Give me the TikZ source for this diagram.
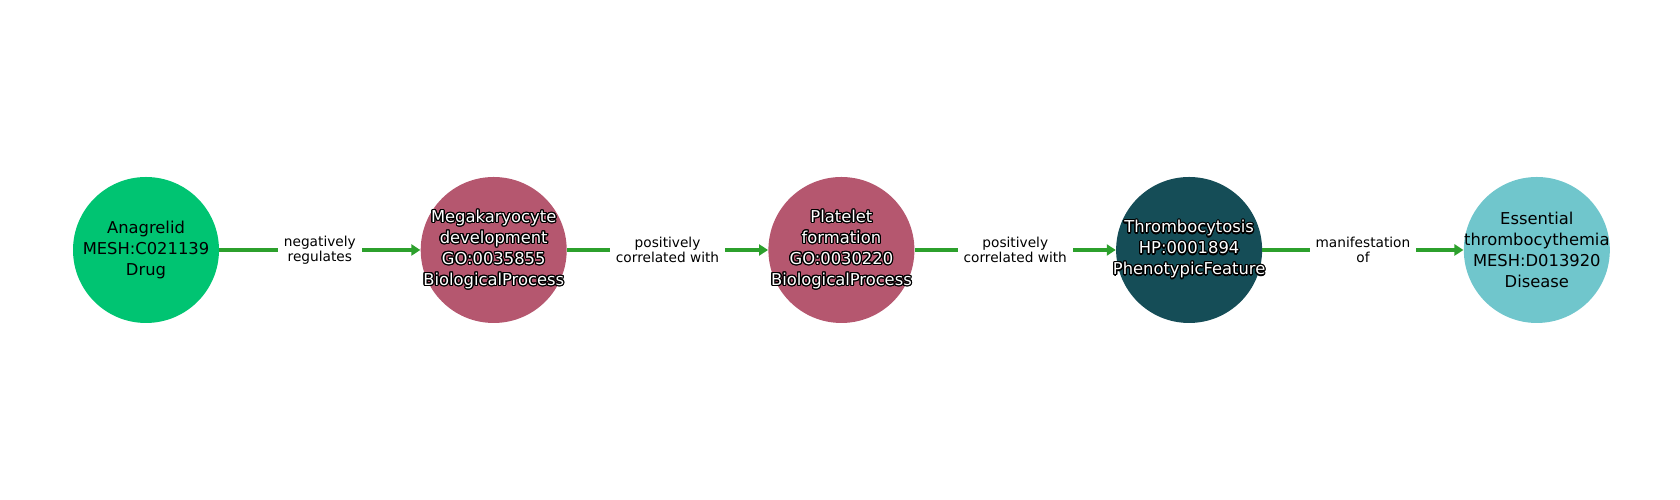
\documentclass[tikz,border=0pt]{standalone}
\usepackage{fontspec}
\setmainfont{DejaVu Sans}
\usepackage{contour}
\contourlength{0.7pt}
\usetikzlibrary{positioning, arrows.meta}

\definecolor{drugc}{HTML}{00C472}
\definecolor{procc}{HTML}{B5576F}
\definecolor{phenoc}{HTML}{154D57}
\definecolor{diseasec}{HTML}{70C6CC}
\definecolor{edgec}{HTML}{2CA02C}

\newcommand{\wt}[1]{\contour{black}{\color{white}#1}}

\begin{document}
\begin{tikzpicture}[
    node distance=4.02cm,
    ent/.style={circle, minimum size=2.92cm, inner sep=0pt},
    txt/.style={align=center, inner sep=0pt, font=\fontsize{9.3}{11.9}\selectfont},
    edge/.style={-{Triangle[length=0.18cm, width=0.22cm]}, draw=edgec, line width=0.065cm},
    lbl/.style={fill=white, align=center, inner xsep=0.12cm, inner ysep=1pt,
                font=\fontsize{7.8}{8.7}\selectfont}
]
\useasboundingbox (0,0) rectangle (33.6,10);

\node[ent, fill=drugc] (anagrelid) at (2.92,5) {};
\node[ent, fill=procc, right=of anagrelid] (megak) {};
\node[ent, fill=procc, right=of megak] (platelet) {};
\node[ent, fill=phenoc, right=of platelet] (thrombo) {};
\node[ent, fill=diseasec, right=of thrombo] (essential) {};

\node[txt] (anagrelid-t) at (anagrelid) {Anagrelid\\MESH:C021139\\Drug};
\node[txt] (megak-t) at (megak) {\wt{Megakaryocyte}\\\wt{development}\\\wt{GO:0035855}\\\wt{BiologicalProcess}};
\node[txt] (platelet-t) at (platelet) {\wt{Platelet}\\\wt{formation}\\\wt{GO:0030220}\\\wt{BiologicalProcess}};
\node[txt] (thrombo-t) at (thrombo) {\wt{Thrombocytosis}\\\wt{HP:0001894}\\\wt{PhenotypicFeature}};
\node[txt] (essential-t) at (essential) {Essential\\thrombocythemia\\MESH:D013920\\Disease};

\draw[edge] (anagrelid) -- node[lbl]{negatively\\regulates} (megak);
\draw[edge] (megak) -- node[lbl]{positively\\correlated with} (platelet);
\draw[edge] (platelet) -- node[lbl]{positively\\correlated with} (thrombo);
\draw[edge] (thrombo) -- node[lbl]{manifestation\\of} (essential);
\end{tikzpicture}
\end{document}
